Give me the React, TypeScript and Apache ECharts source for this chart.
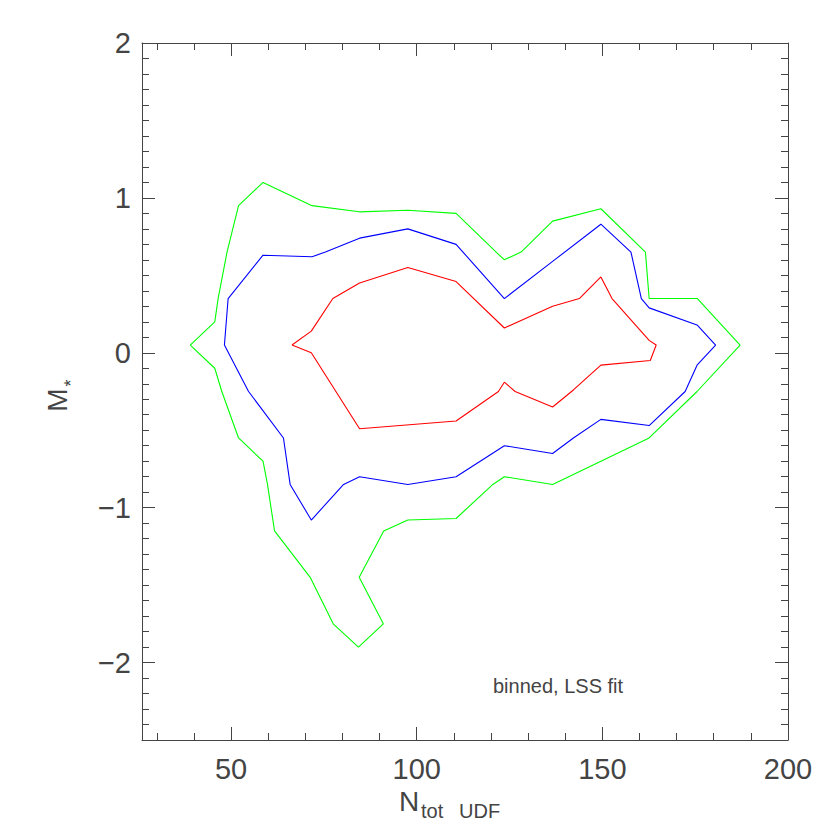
import React, { useEffect, useRef } from "react";
import * as echarts from "echarts";

// Contour levels (x = N_tot UDF, y = M*), traced clockwise, closed
const greenContour: [number, number][] = [
  [39.0, 0.05], [45.6, 0.2], [46.5, 0.35], [48.9, 0.65], [52.0, 0.95], [58.6, 1.1],
  [71.8, 0.95], [84.5, 0.91], [97.6, 0.92], [110.6, 0.9], [121.4, 0.65], [123.6, 0.6],
  [128.1, 0.65], [136.6, 0.85], [149.6, 0.93], [161.6, 0.65], [162.6, 0.35], [175.6, 0.35],
  [187.1, 0.05], [175.5, -0.25], [162.6, -0.55], [136.6, -0.85], [123.6, -0.8], [120.5, -0.85],
  [110.6, -1.07], [97.6, -1.08], [91.1, -1.15], [84.5, -1.45], [91.0, -1.75], [84.3, -1.9],
  [77.5, -1.75], [71.3, -1.45], [61.7, -1.15], [59.8, -0.85], [58.6, -0.7], [52.0, -0.55],
  [47.5, -0.25], [45.6, -0.1], [39.0, 0.05],
];
const blueContour: [number, number][] = [
  [48.2, 0.05], [49.2, 0.35], [58.6, 0.63], [71.8, 0.62], [75.4, 0.65], [84.6, 0.74],
  [97.6, 0.8], [110.6, 0.7], [123.6, 0.35], [136.6, 0.59], [149.6, 0.83], [157.7, 0.65],
  [160.5, 0.35], [162.6, 0.29], [175.5, 0.18], [180.5, 0.05], [175.5, -0.08], [172.3, -0.25],
  [162.6, -0.47], [149.6, -0.43], [142.2, -0.55], [136.6, -0.65], [123.6, -0.6], [110.6, -0.8],
  [97.6, -0.85], [84.6, -0.8], [80.3, -0.85], [71.6, -1.08], [65.9, -0.85], [64.1, -0.55],
  [54.7, -0.25], [48.2, 0.05],
];
const redContour: [number, number][] = [
  [66.4, 0.05], [71.6, 0.14], [77.4, 0.35], [84.6, 0.45], [97.6, 0.55], [110.6, 0.46],
  [123.6, 0.16], [136.6, 0.3], [143.8, 0.35], [149.6, 0.49], [152.6, 0.35], [162.6, 0.08],
  [164.5, 0.05], [162.9, -0.05], [149.6, -0.08], [142.2, -0.24], [136.6, -0.35], [126.5, -0.25],
  [123.6, -0.19], [122.0, -0.25], [110.6, -0.44], [84.6, -0.49], [71.6, 0.0], [66.4, 0.05],
];

const xRange = [26, 200];
const yRange = [-2.5, 2];
const xMajorTicks = [50, 100, 150, 200];
const yMajorTicks = [-2, -1, 0, 1, 2];
const xMinorStep = 10;
const yMinorStep = 0.1;

const annotation = "binned, LSS fit";
const xTitleMain = "N";
const xTitleSub1 = "tot";
const xTitleSub2 = "UDF";
const yTitleMain = "M";
const yTitleSub = "*";

function minorTicks(min: number, max: number, step: number, majors: number[]) {
  const out: number[] = [];
  const start = Math.ceil(min / step - 1e-9);
  const end = Math.floor(max / step + 1e-9);
  for (let i = start; i <= end; i++) {
    const v = Math.round(i * step * 1000) / 1000;
    if (!majors.some((m) => Math.abs(m - v) < 1e-6)) out.push(v);
  }
  return out;
}

const AX = "#444";
const FONT = "Liberation Sans";

export default function App() {
  const ref = useRef<HTMLDivElement>(null);
  useEffect(() => {
    if (!ref.current) return;
    const chart = echarts.init(ref.current, null, { renderer: "svg" });
    const xMinor = minorTicks(xRange[0], xRange[1], xMinorStep, xMajorTicks);
    const yMinor = minorTicks(yRange[0], yRange[1], yMinorStep, yMajorTicks);
    const lineStyle = { color: AX, width: 1 };
    const fmt = (v: number) => String(v).replace("-", "\u2212");
    const mkAxis = (
      dim: "x" | "y",
      position: string,
      major: boolean,
      showLine: boolean,
      showLabel: boolean
    ) => ({
      type: "value",
      min: dim === "x" ? xRange[0] : yRange[0],
      max: dim === "x" ? xRange[1] : yRange[1],
      position,
      axisLine: { show: showLine, onZero: false, lineStyle },
      axisTick: {
        show: true,
        inside: true,
        length: major ? 13 : 7,
        lineStyle,
        customValues: major ? (dim === "x" ? xMajorTicks : yMajorTicks) : dim === "x" ? xMinor : yMinor,
      },
      axisLabel: {
        show: showLabel,
        customValues: dim === "x" ? xMajorTicks : yMajorTicks,
        formatter: fmt,
        color: AX,
        fontFamily: FONT,
        fontSize: 29,
        lineHeight: 29,
        margin: dim === "x" ? 14 : 11,
      },
      splitLine: { show: false },
    });
    chart.setOption({
      animation: false,
      backgroundColor: "#fff",
      grid: { left: 142, right: 42, top: 43, bottom: 90, containLabel: false, outerBoundsMode: "none" },
      xAxis: [
        mkAxis("x", "bottom", true, true, true),
        mkAxis("x", "bottom", false, false, false),
        mkAxis("x", "top", true, true, false),
        mkAxis("x", "top", false, false, false),
      ],
      yAxis: [
        mkAxis("y", "left", true, true, true),
        mkAxis("y", "left", false, false, false),
        mkAxis("y", "right", true, true, false),
        mkAxis("y", "right", false, false, false),
      ],
      series: [
        { name: "green", data: greenContour, color: "#00ff00" },
        { name: "blue", data: blueContour, color: "#0000ff" },
        { name: "red", data: redContour, color: "#ff0000" },
      ].map((s) => ({
        type: "line",
        name: s.name,
        data: s.data,
        xAxisIndex: 0,
        yAxisIndex: 0,
        symbol: "none",
        smooth: false,
        clip: true,
        lineStyle: { color: s.color, width: 1.1 },
        itemStyle: { color: s.color },
      })),
      graphic: [
        {
          type: "text",
          x: 493,
          y: 686,
          style: { text: annotation, fill: AX, font: `20px "${FONT}"`, textAlign: "left", textVerticalAlign: "middle" },
        },
        {
          type: "text",
          x: 399,
          y: 801,
          style: { text: xTitleMain, fill: AX, font: `28px "${FONT}"`, textAlign: "left", textVerticalAlign: "middle" },
        },
        {
          type: "text",
          x: 421,
          y: 811,
          style: { text: xTitleSub1, fill: AX, font: `20px "${FONT}"`, textAlign: "left", textVerticalAlign: "middle" },
        },
        {
          type: "text",
          x: 459,
          y: 811,
          style: { text: xTitleSub2, fill: AX, font: `20px "${FONT}"`, textAlign: "left", textVerticalAlign: "middle" },
        },
        {
          type: "text",
          x: 57,
          y: 400,
          rotation: Math.PI / 2,
          style: { text: yTitleMain, fill: AX, font: `28px "${FONT}"`, textAlign: "center", textVerticalAlign: "middle" },
        },
        {
          type: "text",
          x: 71,
          y: 383,
          rotation: Math.PI / 2,
          style: { text: yTitleSub, fill: AX, font: `18px "${FONT}"`, textAlign: "center", textVerticalAlign: "middle" },
        },
      ],
    });
    return () => chart.dispose();
  }, []);
  return (
    <div
      ref={ref}
      style={{ position: "fixed", left: 0, top: 0, width: 830, height: 830, background: "#fff" }}
    />
  );
}
